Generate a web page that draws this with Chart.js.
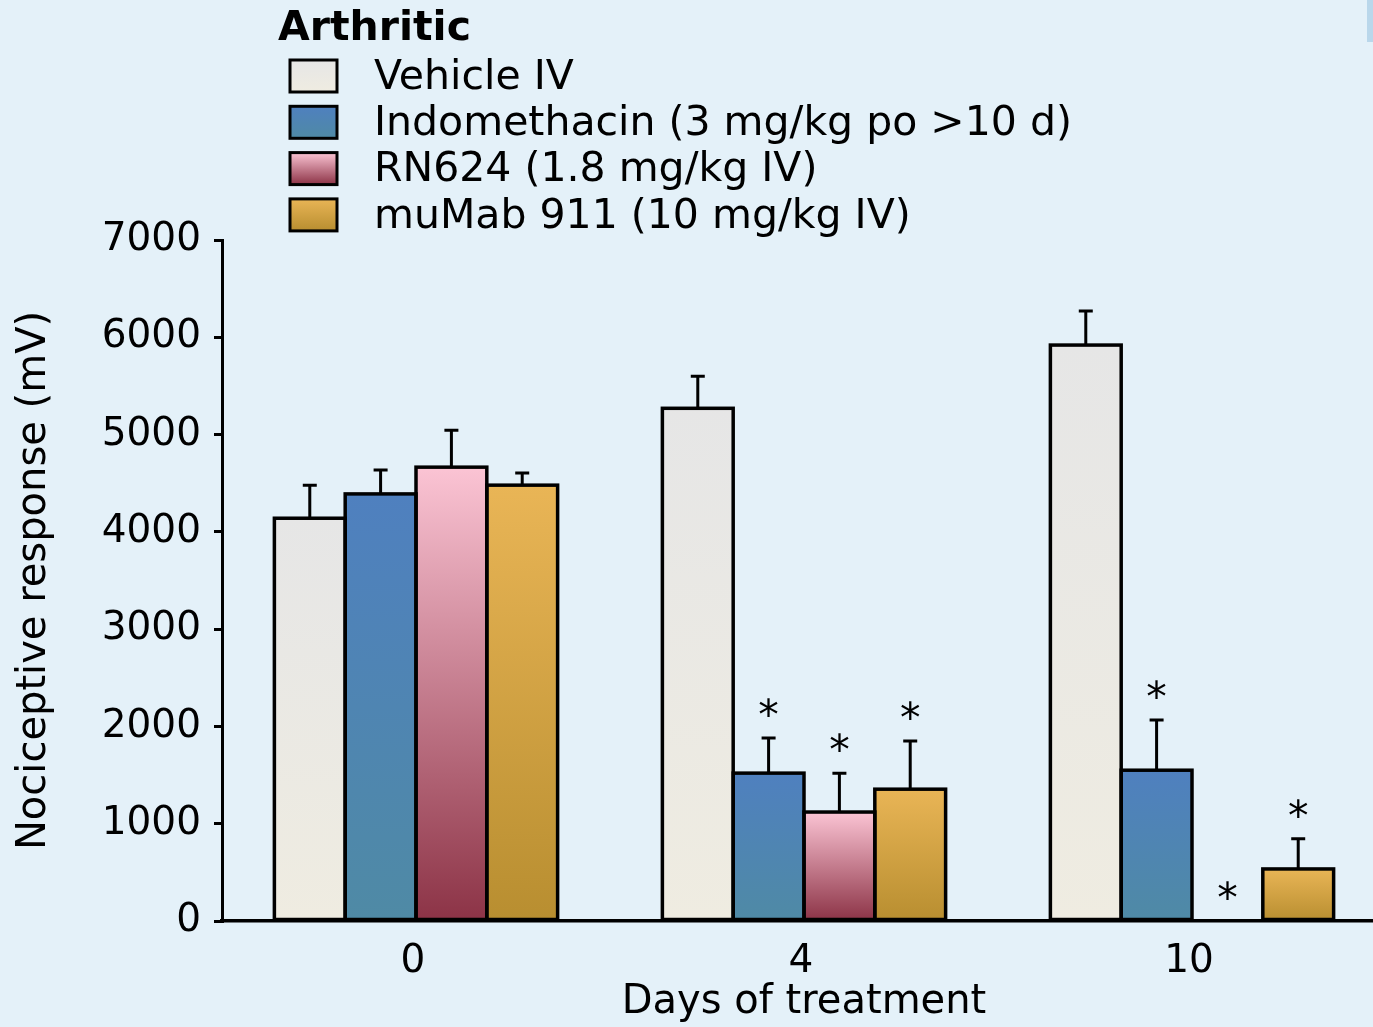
<!DOCTYPE html>
<html>
<head>
<meta charset="utf-8">
<script src="https://cdn.jsdelivr.net/npm/chart.js@4/dist/chart.umd.min.js"></script>
<style>
  html, body { margin: 0; padding: 0; overflow: hidden; background: #e4f1f9; }
  #wrap { position: relative; width: 1373px; height: 1027px; overflow: hidden; }
  #strip { position: absolute; left: 1367px; top: 0; width: 6px; height: 42px; background: #b9d7eb; }
</style>
</head>
<body>
<div id="wrap">
  <canvas id="myChart" width="1390" height="1027"></canvas>
  <div id="strip"></div>
</div>
<script>
    /*** Datos del gráfico */
    var dias = ["0", "4", "10"];
    var legendTitle = "Arthritic";
    var xTitle = "Days of treatment";
    var yTitle = "Nociceptive response (mV)";

    var vehicle = [4140, 5270, 5920];
    var vehicleErr = [340, 330, 350];
    var indo = [4390, 1520, 1550];
    var indoErr = [247, 360, 515];
    var rn624 = [4665, 1120, 0];
    var rn624Err = [380, 400, 0];
    var mumab = [4480, 1355, 535];
    var mumabErr = [125, 495, 310];

    // asteriscos (p < 0.05 vs vehicle)
    var vehicleSig = [false, false, false];
    var indoSig = [false, true, true];
    var rn624Sig = [false, true, true];
    var mumabSig = [false, true, true];

    var fuente = "'DejaVu Sans', Verdana, sans-serif";
    var tam = 41;      // leyenda y asteriscos
    var tamTick = 39;  // etiquetas de ejes
    var tamTitulo = 40;

    // degradado de cada barra: [arriba, abajo]
    function barGradient(top, bottom) {
        return function(c) {
            var chart = c.chart;
            if (!chart.chartArea || c.type !== 'data') return top;
            var y = chart.scales.y;
            var yTop = y.getPixelForValue(c.raw);
            var yBase = y.getPixelForValue(0);
            if (yBase - yTop < 1) return top;
            var g = chart.ctx.createLinearGradient(0, yTop, 0, yBase);
            g.addColorStop(0, top);
            g.addColorStop(1, bottom);
            return g;
        };
    }

    var colores = [
        ['#e6e6e6', '#efece1'],
        ['#4f80bf', '#4f8aa5'],
        ['#fbc4d4', '#8c3346'],
        ['#e9b556', '#b88e30']
    ];

    function serie(label, data, err, sig, i) {
        return {
            label: label,
            data: data,
            err: err,
            sig: sig,
            backgroundColor: barGradient(colores[i][0], colores[i][1]),
            borderWidth: 0,
            categoryPercentage: 0.73,
            barPercentage: 1.0
        };
    }

    /*** Bordes compartidos, barras de error y asteriscos */
    var errorBars = {
        id: 'errorBars',
        afterDatasetsDraw: function(chart) {
            var ctx = chart.ctx;
            var y = chart.scales.y;
            ctx.save();
            ctx.strokeStyle = '#000';
            ctx.fillStyle = '#000';
            ctx.lineWidth = 3.5;
            chart.data.datasets.forEach(function(ds, di) {
                var meta = chart.getDatasetMeta(di);
                meta.data.forEach(function(el, i) {
                    if (el.base - el.y >= 1) {
                        ctx.strokeRect(el.x - el.width / 2, el.y, el.width, el.base - el.y);
                    }
                });
            });
            ctx.lineWidth = 3;
            chart.data.datasets.forEach(function(ds, di) {
                var meta = chart.getDatasetMeta(di);
                meta.data.forEach(function(el, i) {
                    var yErr = y.getPixelForValue(ds.data[i] + ds.err[i]);
                    if (ds.err[i] > 0) {
                        ctx.beginPath();
                        ctx.moveTo(el.x, el.y - 1);
                        ctx.lineTo(el.x, yErr);
                        ctx.moveTo(el.x - 7, yErr);
                        ctx.lineTo(el.x + 7, yErr);
                        ctx.stroke();
                    }
                    if (ds.sig[i]) {
                        ctx.font = tam + 'px ' + fuente;
                        ctx.textAlign = 'center';
                        ctx.textBaseline = 'alphabetic';
                        ctx.fillText('*', el.x, yErr - 9);
                    }
                });
            });
            ctx.restore();
        }
    };

    /*** Leyenda propia */
    var leyenda = {
        id: 'leyenda',
        afterDraw: function(chart) {
            var ctx = chart.ctx;
            ctx.save();
            ctx.fillStyle = '#000';
            ctx.textAlign = 'left';
            ctx.textBaseline = 'middle';
            ctx.font = 'bold ' + tam + 'px ' + fuente;
            ctx.fillText(legendTitle, 278, 29);
            ctx.font = tam + 'px ' + fuente;
            chart.data.datasets.forEach(function(ds, i) {
                var top = 60 + i * 46.3;
                var g = ctx.createLinearGradient(0, top, 0, top + 32);
                g.addColorStop(0, colores[i][0]);
                g.addColorStop(1, colores[i][1]);
                ctx.fillStyle = g;
                ctx.fillRect(290, top, 47, 32);
                ctx.lineWidth = 3;
                ctx.strokeStyle = '#000';
                ctx.strokeRect(290, top, 47, 32);
                ctx.fillStyle = '#000';
                ctx.fillText(ds.label, 374, top + 18);
            });
            ctx.restore();
        }
    };

    var ctx = document.getElementById("myChart").getContext('2d');
    var myChart = new Chart(ctx, {
        type: 'bar',
        data: {
            labels: dias,
            datasets: [
                serie('Vehicle IV', vehicle, vehicleErr, vehicleSig, 0),
                serie('Indomethacin (3 mg/kg po >10 d)', indo, indoErr, indoSig, 1),
                serie('RN624 (1.8 mg/kg IV)', rn624, rn624Err, rn624Sig, 2),
                serie('muMab 911 (10 mg/kg IV)', mumab, mumabErr, mumabSig, 3)
            ]
        },
        options: {
            responsive: false,
            animation: false,
            layout: { padding: { top: 240, right: 4, left: 0, bottom: 0 } },
            plugins: {
                legend: { display: false },
                tooltip: { enabled: false }
            },
            scales: {
                x: {
                    grid: { display: false, drawTicks: false },
                    border: { display: true, color: '#000', width: 3.5 },
                    ticks: { color: '#000', padding: 17, labelOffset: -3, font: { family: fuente, size: tamTick } },
                    title: {
                        display: true, text: xTitle, color: '#000',
                        padding: { top: 0, bottom: 0 },
                        font: { family: fuente, size: tamTitulo }
                    },
                    afterFit: function(scale) { scale.height = 106; }
                },
                y: {
                    min: 0,
                    max: 7000,
                    ticks: {
                        stepSize: 1000, color: '#000', padding: 13,
                        font: { family: fuente, size: tamTick },
                        callback: function(v) { return String(v); }
                    },
                    grid: { drawOnChartArea: false, drawTicks: true, tickLength: 8, color: '#000', lineWidth: 3 },
                    border: { display: true, color: '#000', width: 3 },
                    title: {
                        display: true, text: yTitle, color: '#000',
                        padding: { top: 11, bottom: 0 },
                        font: { family: fuente, size: tamTitulo }
                    },
                    afterFit: function(scale) { scale.width = 222; }
                }
            }
        },
        plugins: [errorBars, leyenda]
    });
</script>
</body>
</html>
